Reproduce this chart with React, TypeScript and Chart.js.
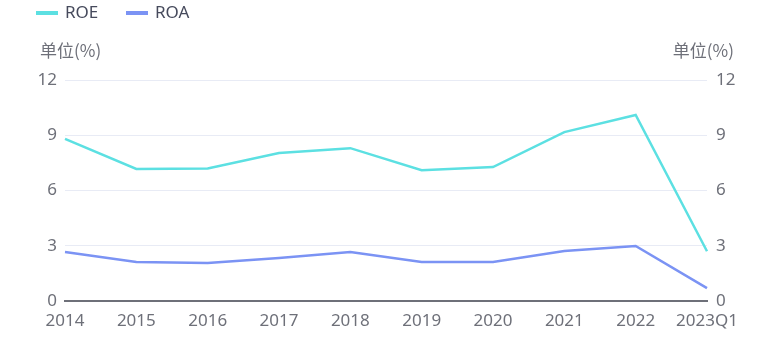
import React, { useEffect, useRef } from "react";
import { Chart, registerables } from "chart.js";

Chart.register(...registerables);

const categories = ["2014", "2015", "2016", "2017", "2018", "2019", "2020", "2021", "2022", "2023Q1"];
const roeValues = [8.8, 7.17, 7.2, 8.04, 8.3, 7.1, 7.27, 9.17, 10.1, 2.7];
const roaValues = [2.66, 2.12, 2.06, 2.33, 2.66, 2.12, 2.12, 2.71, 2.99, 0.7];
const yTicks = [0, 3, 6, 9, 12];
const seriesNames = ["ROE", "ROA"];
const unitLabel = "单位(%)";

const ROE_COLOR = "#5ce0e2";
const ROA_COLOR = "#7b93f4";
const TICK_COLOR = "#6e7079";
const FONT = "'Noto Sans', 'Noto Sans CJK SC', sans-serif";
const CJK_FONT = "'Noto Sans CJK SC', 'Noto Sans', sans-serif";

const overlayPlugin = {
  id: "overlay",
  afterDraw(chart: any) {
    const ctx = chart.ctx;
    ctx.save();
    // unit labels
    ctx.font = `17px ${CJK_FONT}`;
    ctx.fillStyle = TICK_COLOR;
    ctx.textBaseline = "middle";
    ctx.textAlign = "left";
    ctx.fillText(unitLabel, 40, 51);
    ctx.textAlign = "right";
    ctx.fillText(unitLabel, 734, 51);
    // legend
    const colors = [ROE_COLOR, ROA_COLOR];
    const xs = [36, 126];
    ctx.textAlign = "left";
    ctx.font = `17px ${FONT}`;
    for (let i = 0; i < 2; i++) {
      ctx.fillStyle = colors[i];
      ctx.fillRect(xs[i], 11, 22, 4);
      ctx.fillStyle = "#464a5c";
      ctx.fillText(seriesNames[i], xs[i] + 29, 13);
    }
    ctx.restore();
  },
};

export default function App() {
  const ref = useRef<HTMLCanvasElement | null>(null);
  useEffect(() => {
    document.body.style.margin = "0";
    const canvas = ref.current!;
    const tickFont = { family: FONT, size: 17 };
    const chart = new Chart(canvas, {
      type: "line",
      data: {
        labels: categories,
        datasets: [
          {
            label: seriesNames[0],
            data: roeValues,
            borderColor: ROE_COLOR,
            backgroundColor: ROE_COLOR,
            borderWidth: 2.5,
            pointRadius: 0,
            tension: 0,
            yAxisID: "y",
          },
          {
            label: seriesNames[1],
            data: roaValues,
            borderColor: ROA_COLOR,
            backgroundColor: ROA_COLOR,
            borderWidth: 2.5,
            pointRadius: 0,
            tension: 0,
            yAxisID: "y1",
          },
        ],
      },
      options: {
        animation: false,
        responsive: false,
        maintainAspectRatio: false,
        layout: { padding: { top: 80, bottom: 12, left: 0, right: 0 } },
        plugins: { legend: { display: false }, tooltip: { enabled: false } },
        scales: {
          x: {
            offset: false,
            grid: { display: false },
            border: { display: true, color: TICK_COLOR, width: 2 },
            ticks: { color: TICK_COLOR, font: tickFont, padding: 2, maxRotation: 0, autoSkip: false },
            afterFit(scale: any) {
              scale.height = 38;
            },
          },
          y: {
            position: "left",
            min: 0,
            max: 12,
            afterBuildTicks(scale: any) {
              scale.ticks = yTicks.map((v) => ({ value: v }));
            },
            grid: { color: "#e8ebf5", lineWidth: 1, drawTicks: false },
            border: { display: false },
            ticks: { color: TICK_COLOR, font: tickFont, padding: 8 },
            afterFit(scale: any) {
              scale.width = 65;
            },
          },
          y1: {
            position: "right",
            min: 0,
            max: 12,
            afterBuildTicks(scale: any) {
              scale.ticks = yTicks.map((v) => ({ value: v }));
            },
            grid: { display: false, drawTicks: false },
            border: { display: false },
            ticks: { color: TICK_COLOR, font: tickFont, padding: 9 },
            afterFit(scale: any) {
              scale.width = 55;
            },
          },
        },
      },
      plugins: [overlayPlugin],
    } as any);
    return () => chart.destroy();
  }, []);
  return (
    <div style={{ position: "relative", width: 762, height: 351 }}>
      <canvas ref={ref} width={762} height={351} style={{ width: 762, height: 351, display: "block" }} />
    </div>
  );
}
